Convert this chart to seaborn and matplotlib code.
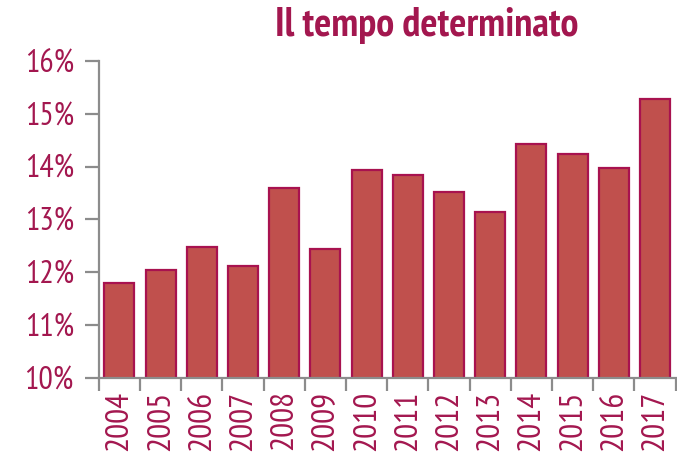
import matplotlib
matplotlib.use("Agg")
import matplotlib.pyplot as plt
import seaborn as sns
import pandas as pd
import numpy as np
from matplotlib.ticker import FixedLocator

# Data
years = ["2004", "2005", "2006", "2007", "2008", "2009", "2010",
         "2011", "2012", "2013", "2014", "2015", "2016", "2017"]
share = [11.80, 12.05, 12.48, 12.11, 13.60, 12.43, 13.94,
         13.83, 13.51, 13.14, 14.43, 14.24, 13.98, 15.27]
y_ticks = [10, 11, 12, 13, 14, 15, 16]
title = "Il tempo determinato"

df = pd.DataFrame({"anno": years, "quota": share})

text_col = "#A3174F"
bar_col = "#C0504D"
edge_col = "#A8124F"
axis_col = "#8C8C8C"

sns.set_style("white")
plt.rcParams["font.family"] = ["PT Sans Narrow", "Liberation Sans", "DejaVu Sans"]

fig = plt.figure(figsize=(6.77, 4.57), dpi=100)
ax = fig.add_axes([0.146, 0.173, 0.852, 0.694])

sns.barplot(data=df, x="anno", y="quota", color=bar_col, width=0.73,
            edgecolor=edge_col, linewidth=1.6, saturation=1, ax=ax)

ax.set_ylim(10, 16)
ax.set_xlim(-0.5, len(years) - 0.5)
ax.set_yticks(y_ticks)
ax.set_yticklabels([f"{t}%" for t in y_ticks])
ax.set_xlabel("")
ax.set_ylabel("")

# spines
for s in ["top", "right"]:
    ax.spines[s].set_visible(False)
for s in ["left", "bottom"]:
    ax.spines[s].set_color(axis_col)
    ax.spines[s].set_linewidth(1.6)

# x ticks between categories
ax.xaxis.set_minor_locator(FixedLocator(np.arange(-0.5, len(years), 1)))
ax.tick_params(axis="x", which="major", bottom=True, length=0, pad=9,
               labelsize=24, labelcolor=text_col, rotation=90)
ax.tick_params(axis="x", which="minor", bottom=True, length=9, width=1.6,
               color=axis_col)
ax.tick_params(axis="y", left=True, length=10, width=1.6, color=axis_col,
               pad=8, labelsize=23, labelcolor=text_col)

fig.text(0.63, 0.945, title, ha="center", va="center", fontsize=29,
         fontweight="bold", color=text_col)

fig.savefig("out.png", dpi=100)
